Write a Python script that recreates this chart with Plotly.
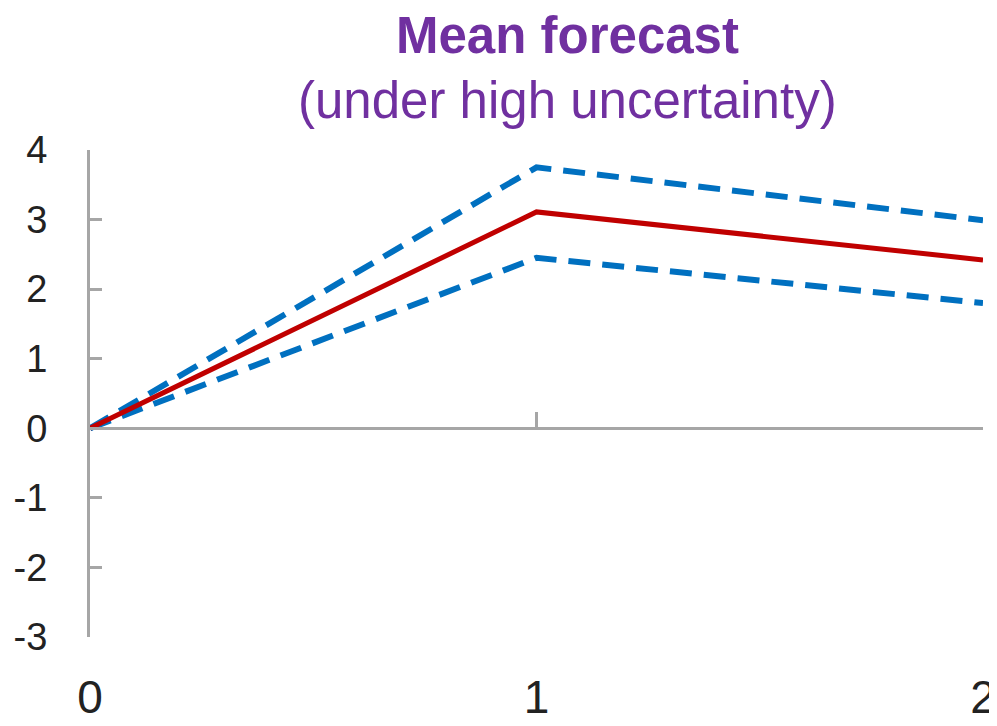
import plotly.graph_objects as go

periods = [0, 1, 2]
mean_forecast = [0, 3.11, 2.42]
upper_band = [0, 3.75, 2.99]
lower_band = [0, 2.45, 1.80]
y_ticks = [-3, -2, -1, 0, 1, 2, 3, 4]
x_ticks = [0, 1, 2]

# the page adds an 8px body margin, so the figure is drawn 8px smaller
OFF = 8
W, H = 997 - OFF, 726 - OFF
PL, PR, PT, PB = 90, 983, 150, 637          # plot box in screen pixels
L, T = PL - OFF, PT - OFF
R, B = W - (PR - OFF), H - (PB - OFF)

def py(p):
    return (PB - p) / (PB - PT)

def px(p):
    return (p - PL) / (PR - PL)

fig = go.Figure()
fig.add_trace(go.Scatter(x=periods, y=upper_band, mode="lines",
                         line=dict(color="#0070C0", width=6, dash="22px,12px"), hoverinfo="skip"))
fig.add_trace(go.Scatter(x=periods, y=lower_band, mode="lines",
                         line=dict(color="#0070C0", width=6, dash="22px,12px"), hoverinfo="skip"))
fig.add_trace(go.Scatter(x=periods, y=mean_forecast, mode="lines",
                         line=dict(color="#C00000", width=5), hoverinfo="skip"))
# carrier for the axis drawn at y = 0
fig.add_trace(go.Scatter(x=[periods[0], periods[-1]], y=[0, 0], xaxis="x2", mode="lines",
                         line=dict(color="rgba(0,0,0,0)", width=0), hoverinfo="skip"))

fig.update_layout(
    width=W, height=H,
    margin=dict(l=L, r=R, t=T, b=B, autoexpand=False),
    paper_bgcolor="white", plot_bgcolor="white",
    showlegend=False,
    font=dict(family="Arial, Liberation Sans, sans-serif"),
    xaxis=dict(range=[0, 2], tickvals=x_ticks, ticktext=[str(v) for v in x_ticks],
               showgrid=False, zeroline=False, showline=False, ticks="", automargin=False,
               tickfont=dict(size=46, color="#222"), ticklabelstandoff=29),
    xaxis2=dict(range=[0, 2], overlaying="x", anchor="free", position=3 / 7,
                tickvals=[1, 2], showticklabels=False, showgrid=False, zeroline=False,
                showline=True, linecolor="#A6A6A6", linewidth=3, automargin=False,
                ticks="inside", ticklen=15, tickwidth=3, tickcolor="#A6A6A6"),
    yaxis=dict(range=[-3, 4], tickvals=y_ticks, ticktext=[str(v) for v in y_ticks],
               showgrid=False, zeroline=False, showline=True, linecolor="#A6A6A6",
               linewidth=3, ticks="inside", ticklen=12, tickwidth=3, tickcolor="#A6A6A6",
               automargin=False,
               tickfont=dict(size=38, color="#222"), ticklabelstandoff=32),
    annotations=[
        dict(text="<b>Mean forecast</b>", xref="paper", yref="paper", x=px(567), y=py(36),
             xanchor="center", yanchor="middle", showarrow=False,
             font=dict(size=51, color="#7030A0")),
        dict(text="(under high uncertainty)", xref="paper", yref="paper", x=px(567), y=py(101),
             xanchor="center", yanchor="middle", showarrow=False,
             font=dict(size=51, color="#7030A0")),
    ],
)

fig.write_html("out.html")
